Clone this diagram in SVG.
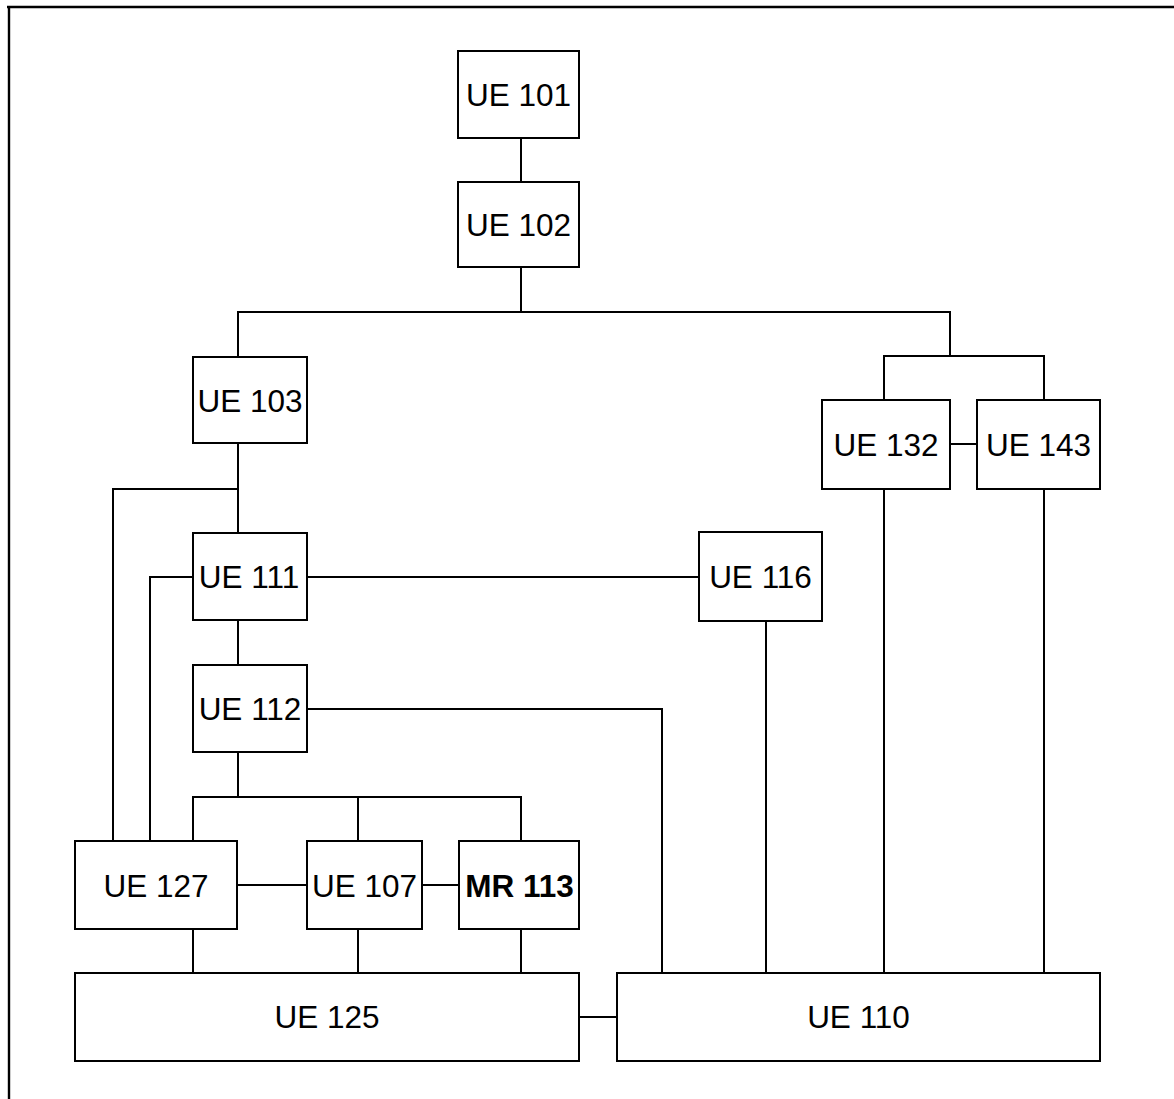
<svg xmlns="http://www.w3.org/2000/svg" width="1174" height="1099" viewBox="0 0 1174 1099">
<style>
.box{fill:#fff;stroke:#000;stroke-width:2}
.lbl{font-family:"Liberation Sans",Arial,sans-serif;font-size:31.5px;fill:#000;text-anchor:middle}
.b{font-weight:bold}
.c line{stroke:#000;stroke-width:2;fill:none}
</style>
<rect width="1174" height="1099" fill="#fff"/>
<g id="frame"><path d="M7,7 H1174 M9,7 V1099" stroke="#000" stroke-width="2.4" fill="none"/></g>
<g id="connectors" class="c">
<line x1="521" y1="138" x2="521" y2="182"/>
<line x1="521" y1="267" x2="521" y2="312"/>
<line x1="237" y1="312" x2="951" y2="312"/>
<line x1="238" y1="312" x2="238" y2="357"/>
<line x1="950" y1="312" x2="950" y2="356"/>
<line x1="883" y1="356" x2="1045" y2="356"/>
<line x1="884" y1="356" x2="884" y2="400"/>
<line x1="1044" y1="356" x2="1044" y2="400"/>
<line x1="950" y1="444" x2="977" y2="444"/>
<line x1="884" y1="489" x2="884" y2="973"/>
<line x1="1044" y1="489" x2="1044" y2="973"/>
<line x1="238" y1="443" x2="238" y2="533"/>
<line x1="112" y1="489" x2="238" y2="489"/>
<line x1="113" y1="489" x2="113" y2="841"/>
<line x1="149" y1="577" x2="193" y2="577"/>
<line x1="150" y1="577" x2="150" y2="841"/>
<line x1="307" y1="577" x2="699" y2="577"/>
<line x1="238" y1="620" x2="238" y2="665"/>
<line x1="307" y1="709" x2="663" y2="709"/>
<line x1="662" y1="709" x2="662" y2="973"/>
<line x1="766" y1="621" x2="766" y2="973"/>
<line x1="238" y1="752" x2="238" y2="797"/>
<line x1="192" y1="797" x2="522" y2="797"/>
<line x1="193" y1="797" x2="193" y2="841"/>
<line x1="358" y1="797" x2="358" y2="841"/>
<line x1="521" y1="797" x2="521" y2="841"/>
<line x1="237" y1="885" x2="307" y2="885"/>
<line x1="422" y1="885" x2="459" y2="885"/>
<line x1="193" y1="929" x2="193" y2="973"/>
<line x1="358" y1="929" x2="358" y2="973"/>
<line x1="521" y1="929" x2="521" y2="973"/>
<line x1="579" y1="1017" x2="617" y2="1017"/>
</g>
<g id="ue101"><rect class="box" x="458" y="51" width="121" height="87"/><text class="lbl" x="518.5" y="105.5">UE 101</text></g>
<g id="ue102"><rect class="box" x="458" y="182" width="121" height="85"/><text class="lbl" x="518.5" y="235.5">UE 102</text></g>
<g id="ue103"><rect class="box" x="193" y="357" width="114" height="86"/><text class="lbl" x="250" y="411.5">UE 103</text></g>
<g id="ue111"><rect class="box" x="193" y="533" width="114" height="87"/><text class="lbl" x="249" y="587.5">UE 111</text></g>
<g id="ue112"><rect class="box" x="193" y="665" width="114" height="87"/><text class="lbl" x="250" y="719.5">UE 112</text></g>
<g id="ue116"><rect class="box" x="699" y="532" width="123" height="89"/><text class="lbl" x="760.5" y="587.5">UE 116</text></g>
<g id="ue132"><rect class="box" x="822" y="400" width="128" height="89"/><text class="lbl" x="886" y="455.5">UE 132</text></g>
<g id="ue143"><rect class="box" x="977" y="400" width="123" height="89"/><text class="lbl" x="1038.5" y="455.5">UE 143</text></g>
<g id="ue127"><rect class="box" x="75" y="841" width="162" height="88"/><text class="lbl" x="156" y="896.5">UE 127</text></g>
<g id="ue107"><rect class="box" x="307" y="841" width="115" height="88"/><text class="lbl" x="364.5" y="896.5">UE 107</text></g>
<g id="mr113"><rect class="box" x="459" y="841" width="120" height="88"/><text class="lbl b" x="519.5" y="896.5">MR 113</text></g>
<g id="ue125"><rect class="box" x="75" y="973" width="504" height="88"/><text class="lbl" x="327" y="1027.5">UE 125</text></g>
<g id="ue110"><rect class="box" x="617" y="973" width="483" height="88"/><text class="lbl" x="858.5" y="1027.5">UE 110</text></g>
</svg>
